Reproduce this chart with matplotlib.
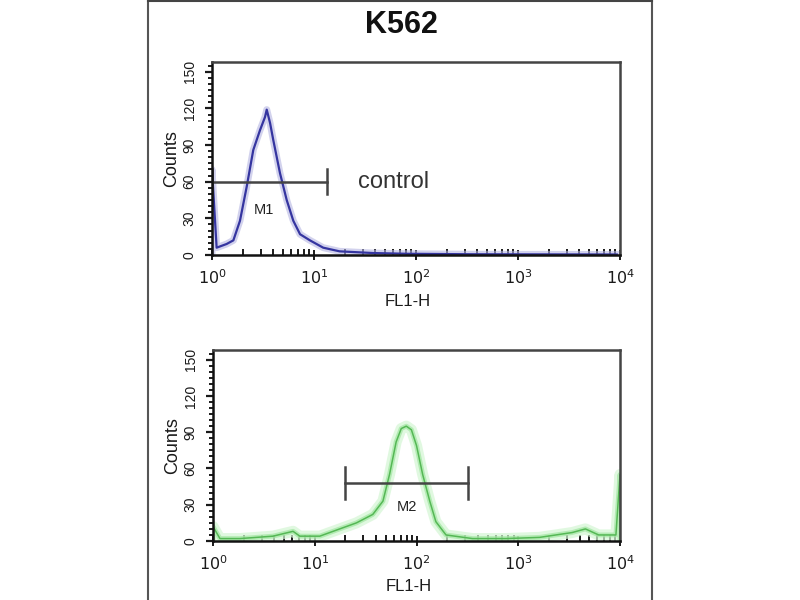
import matplotlib
matplotlib.use("Agg")
import matplotlib.pyplot as plt
from matplotlib.lines import Line2D
from matplotlib.ticker import FixedLocator, NullFormatter

plt.rcParams['font.family'] = ['Liberation Sans', 'DejaVu Sans']

# ---- data ----
title = "K562"
xlabel = "FL1-H"
ylabel = "Counts"
ytick_vals = [0, 30, 60, 90, 120, 150]
xtick_vals = [1, 10, 100, 1000, 10000]
xtick_labels = ["$10^{0}$", "$10^{1}$", "$10^{2}$", "$10^{3}$", "$10^{4}$"]

# control histogram (blue)
ctrl_x = [1.0, 1.0, 1.11, 1.39, 1.62, 1.88, 2.19, 2.54, 2.95, 3.31, 3.44, 3.71,
          3.99, 4.64, 5.40, 6.27, 7.30, 9.12, 12.3, 17.8, 38.0, 81.3, 363, 9300]
ctrl_y = [0, 70, 6, 9, 12, 28, 56, 86, 102, 113, 119, 108,
          94, 67, 45, 28, 17, 12, 6, 3, 1.6, 1.0, 0.6, 0.4]

# sample histogram (green)
samp_x = [1.0, 1.0, 1.17, 1.84, 3.89, 6.12, 7.13, 11.2, 17.6, 25.7, 37.2, 46.8,
          54.3, 63.1, 70.8, 79.4, 89.1, 100, 115, 135, 155, 195, 355, 759,
          1620, 3390, 4570, 6170, 9120, 10000, 10000]
samp_y = [0, 12, 2, 2, 4, 8, 4, 4, 10, 15, 22, 33,
          55, 82, 93, 95, 92, 79, 55, 33, 16, 5, 2, 2,
          3, 7, 10, 5, 5, 55, 0]

# gates
m1_range = [1.0, 13.5]
m1_level = 60
m2_range = [20, 320]
m2_level = 48

# ---- figure ----
fig = plt.figure(figsize=(8, 6), dpi=100)
fig.patch.set_facecolor("white")

# outer panel frame
fig.add_artist(Line2D([148/800, 148/800], [0, 1], color="#555555", lw=1.5))
fig.add_artist(Line2D([652/800, 652/800], [0, 1], color="#555555", lw=1.5))
fig.add_artist(Line2D([148/800, 652/800], [1 - 1/600, 1 - 1/600], color="#444444", lw=1.5))

fig.text(401/800, 1 - 25/600, title, ha="center", va="center",
         fontsize=22, fontweight="bold", color="#111111")

ax1 = fig.add_axes([212/800, 1 - 255/600, 408/800, 193/600])
ax2 = fig.add_axes([213/800, 1 - 541/600, 407/800, 191/600])


def style(ax):
    ax.set_xscale("log")
    ax.set_xlim(1, 10000)
    ax.set_ylim(0, 158)
    ax.xaxis.set_major_locator(FixedLocator(xtick_vals))
    ax.set_xticklabels(xtick_labels)
    minors = [m * 10**d for d in range(4) for m in range(2, 10)]
    ax.xaxis.set_minor_locator(FixedLocator(minors))
    ax.xaxis.set_minor_formatter(NullFormatter())
    ax.set_yticks(ytick_vals)
    ax.set_yticklabels([str(v) for v in ytick_vals], rotation=90, va="center")
    ax.yaxis.set_minor_locator(FixedLocator(list(range(0, 156, 5))))
    ax.tick_params(axis="x", which="major", direction="inout", length=7, width=1.4,
                   labelsize=11.5, pad=6, colors="#1a1a1a")
    ax.tick_params(axis="x", which="minor", direction="in", length=4, width=1.4,
                   colors="#1a1a1a")
    ax.tick_params(axis="y", which="major", direction="out", length=5, width=1.6,
                   labelsize=10, pad=6, colors="#1a1a1a")
    ax.tick_params(axis="y", which="minor", direction="out", length=3, width=1.4,
                   colors="#1a1a1a")
    for s in ["top", "right"]:
        ax.spines[s].set_color("#444444")
        ax.spines[s].set_linewidth(1.8)
    for s in ["left", "bottom"]:
        ax.spines[s].set_color("#111111")
        ax.spines[s].set_linewidth(1.8)
    ax.set_xlabel(xlabel, fontsize=12, color="#1a1a1a")
    ax.xaxis.set_label_coords(0.48, -0.2)
    ax.set_ylabel(ylabel, fontsize=13, labelpad=2, color="#1a1a1a")


style(ax1)
style(ax2)

# control histogram with a soft halo
ax1.plot(ctrl_x, ctrl_y, color="#b4b4e2", lw=5, alpha=0.6, solid_joinstyle="round")
ax1.plot(ctrl_x, ctrl_y, color="#3535a0", lw=1.6, solid_joinstyle="round")

# sample histogram with a soft halo
ax2.plot(samp_x, samp_y, color="#d4f6d4", lw=8, alpha=0.7, solid_joinstyle="round")
ax2.plot(samp_x, samp_y, color="#a0e6a0", lw=3.5, alpha=0.7, solid_joinstyle="round")
ax2.plot(samp_x, samp_y, color="#55b855", lw=1.1, solid_joinstyle="round")

gate_color = "#444444"
# M1 gate
ax1.plot(m1_range, [m1_level, m1_level], color=gate_color, lw=1.8)
ax1.plot([m1_range[1]] * 2, [m1_level - 10, m1_level + 10], color=gate_color, lw=1.8)
ax1.plot([m1_range[0]] * 2, [m1_level - 10, m1_level + 10], color=gate_color, lw=1.8)
ax1.text(3.2, m1_level - 23, "M1", ha="center", va="center", fontsize=10.5, color="#222222")
ax1.text(27, m1_level, "control", ha="left", va="center", fontsize=17, color="#333333")

# M2 gate
ax2.plot(m2_range, [m2_level, m2_level], color=gate_color, lw=1.8)
for xv in m2_range:
    ax2.plot([xv, xv], [m2_level - 13, m2_level + 13], color=gate_color, lw=1.8)
ax2.text(80, m2_level - 20, "M2", ha="center", va="center", fontsize=10.5, color="#222222")

fig.savefig("out.png", dpi=100, facecolor="white")
